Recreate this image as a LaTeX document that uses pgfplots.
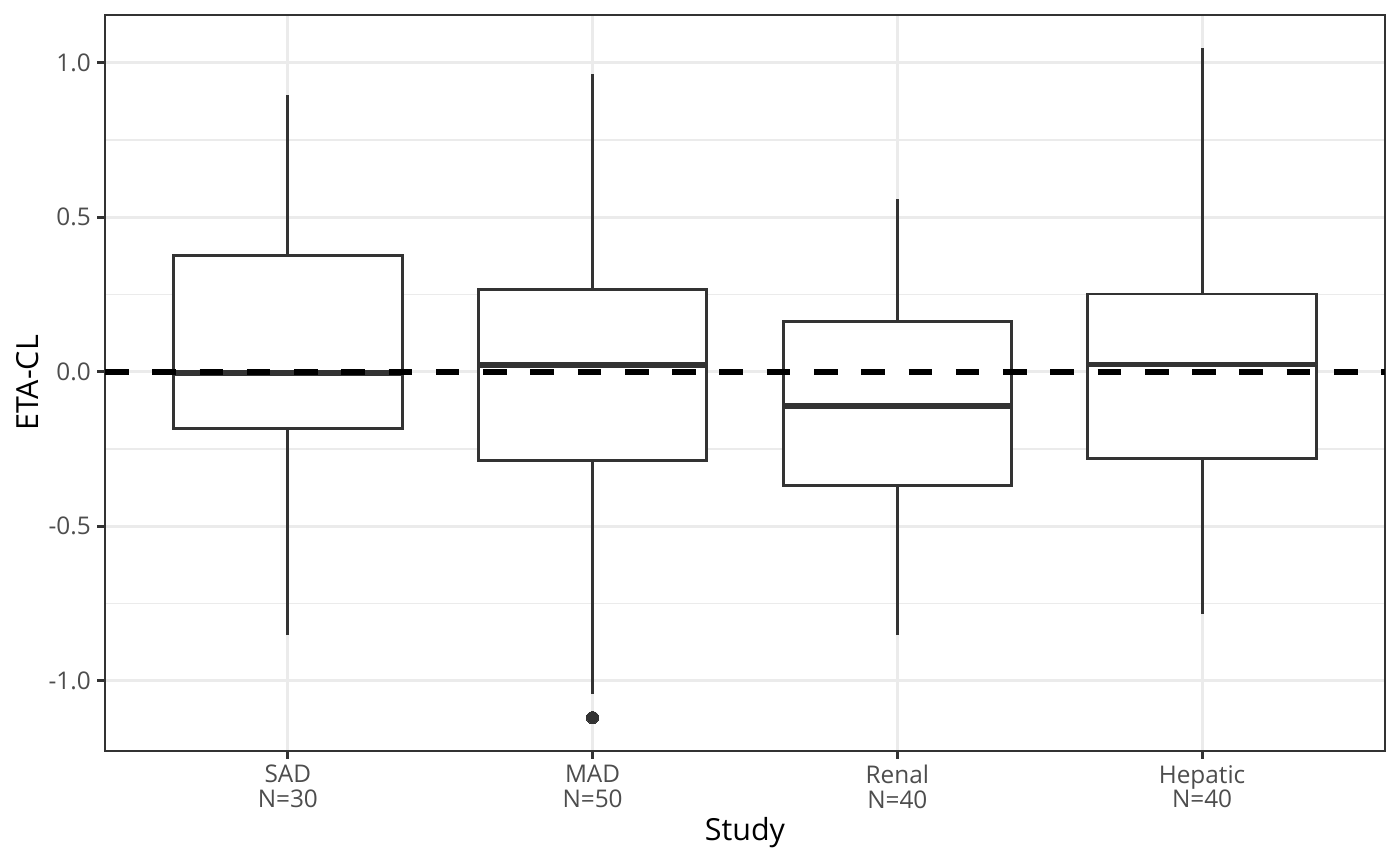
\documentclass[border=0pt]{standalone}
\usepackage{fontspec}
\setmainfont{Open Sans}
\usepackage{pgfplots}
\pgfplotsset{compat=1.18}
\usepgfplotslibrary{statistics}
\definecolor{g20}{HTML}{333333}
\definecolor{g30}{HTML}{4D4D4D}
\definecolor{g92}{HTML}{EBEBEB}
\begin{document}
\begin{tikzpicture}
\path[use as bounding box] (-37.94pt,-41.56pt) rectangle (467.95pt,271.37pt);
\begin{axis}[
  at={(0,0)}, anchor=south west,
  scale only axis, width=462.5pt, height=265.95pt,
  xmin=0.4, xmax=4.6, ymin=-1.228, ymax=1.154,
  axis line style={g20, line width=0.6pt},
  tick pos=left, tick align=outside,
  major tick length=2.75pt, minor tick length=0pt,
  every tick/.style={g20, line width=1.07pt},
  xtick={1,2,3,4},
  xticklabels={{SAD\\N=30},{MAD\\N=50},{Renal\\N=40},{Hepatic\\N=40}},
  ytick={-1,-0.5,0,0.5,1},
  yticklabels={-1.0,-0.5,0.0,0.5,1.0},
  minor ytick={-0.75,-0.25,0.25,0.75},
  xmajorgrids, ymajorgrids, yminorgrids,
  major grid style={g92, line width=1.07pt},
  minor grid style={g92, line width=0.53pt},
  xticklabel style={font=\fontsize{8.8}{8.9}\selectfont, text=g30, align=center, inner sep=0pt, anchor=north, yshift=-2.2pt},
  yticklabel style={font=\fontsize{8.8}{8.9}\selectfont, text=g30, inner sep=0pt, anchor=east, xshift=-2.2pt},
  every axis x label/.style={at={(axis description cs:0.5,-0.1114)}, anchor=center, font=\fontsize{11}{13}\selectfont},
  every axis y label/.style={at={(axis description cs:-0.0602,0.5)}, anchor=center, rotate=90, font=\fontsize{11}{13}\selectfont},
  xlabel={Study}, ylabel={ETA-CL},
  boxplot/draw direction=y,
  boxplot/every median/.style={line width=2.13pt},
  boxplot/whisker extend=0,
  boxplot/box extend=0.75,
]
\addplot[draw=g20, fill=white, line width=1.07pt, solid,
  boxplot prepared={draw position=1, lower whisker=-0.854, lower quartile=-0.184,
    median=-0.004, upper quartile=0.375, upper whisker=0.894}] coordinates {};
\addplot[draw=g20, fill=white, line width=1.07pt, solid, mark=*, mark size=2.2pt,
  mark options={fill=g20, draw=g20, line width=0pt},
  boxplot prepared={draw position=2, lower whisker=-1.043, lower quartile=-0.287,
    median=0.021, upper quartile=0.265, upper whisker=0.964}] coordinates {(0,-1.120)};
\addplot[draw=g20, fill=white, line width=1.07pt, solid,
  boxplot prepared={draw position=3, lower whisker=-0.854, lower quartile=-0.370,
    median=-0.111, upper quartile=0.163, upper whisker=0.560}] coordinates {};
\addplot[draw=g20, fill=white, line width=1.07pt, solid,
  boxplot prepared={draw position=4, lower whisker=-0.786, lower quartile=-0.282,
    median=0.023, upper quartile=0.251, upper whisker=1.046}] coordinates {};
\addplot[black, line width=2.13pt, dash pattern=on 8.54pt off 8.54pt, mark=none]
  coordinates {(0.4,0) (4.6,0)};
\end{axis}
\end{tikzpicture}
\end{document}
